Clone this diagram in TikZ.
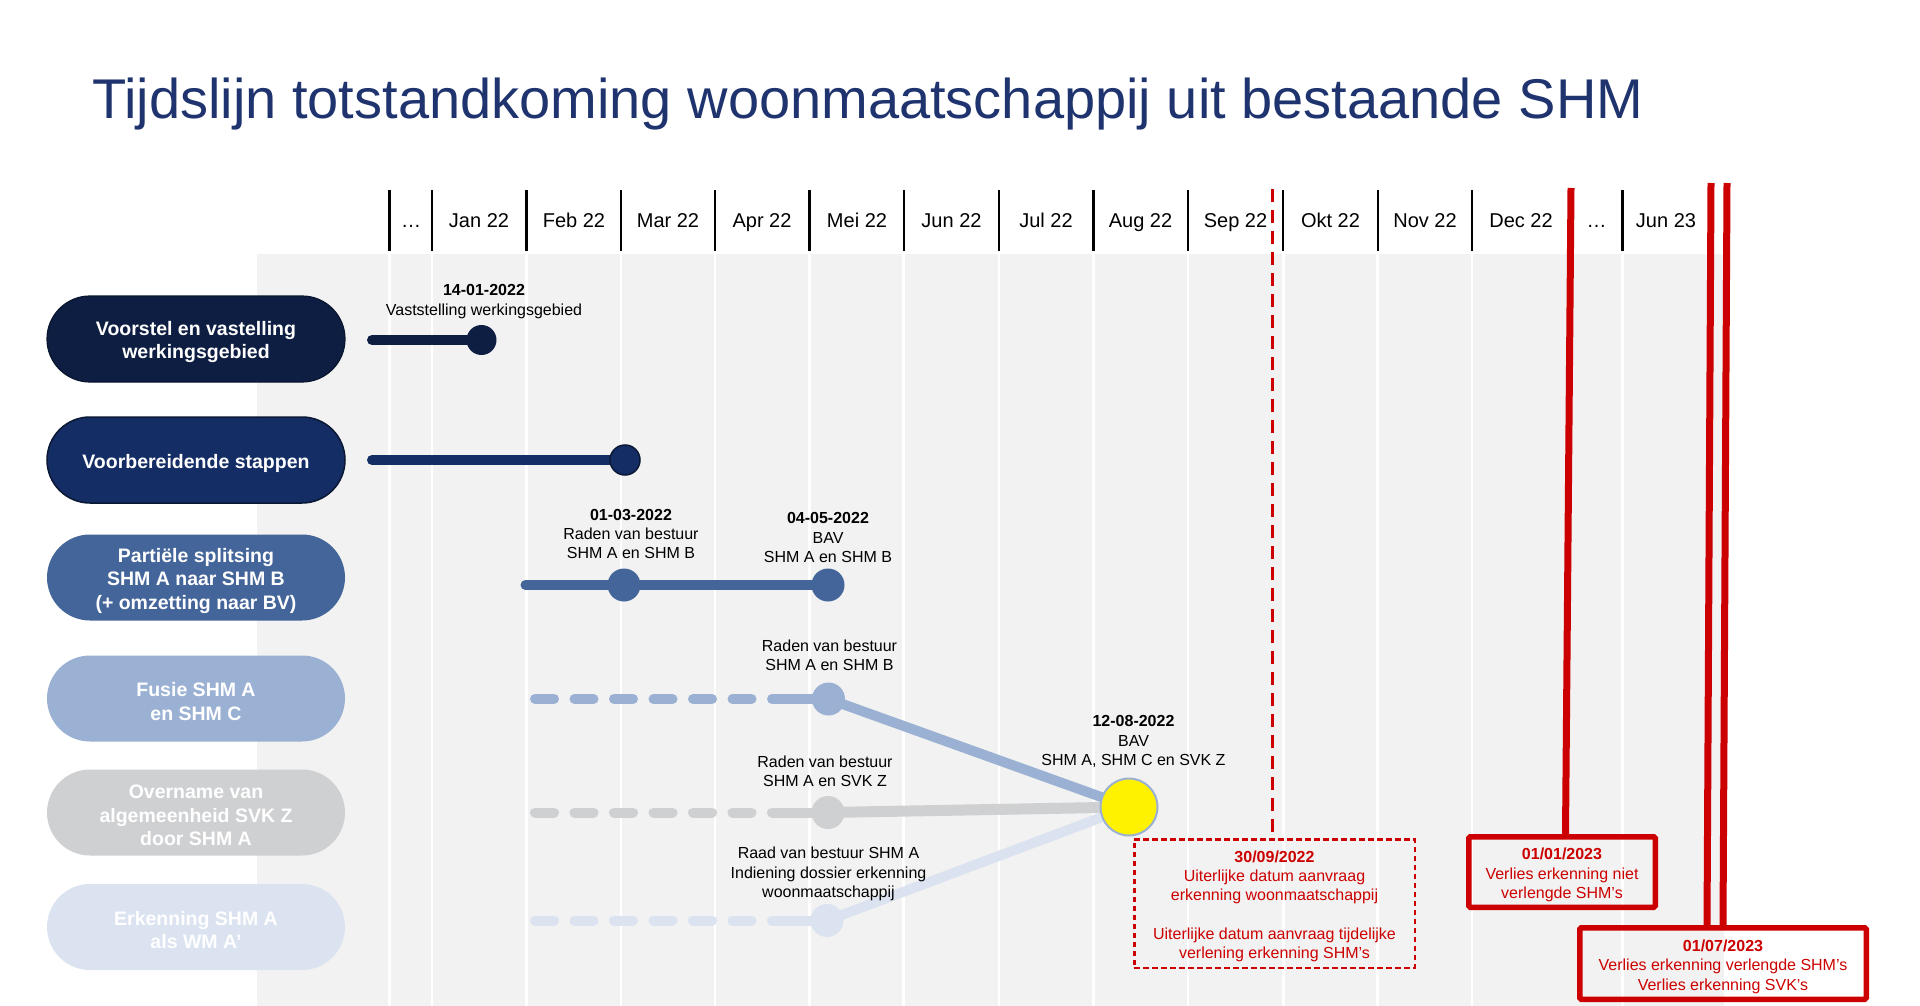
\documentclass[tikz,border=0pt]{standalone}
\usepackage{fontspec}
\setmainfont{Liberation Sans}
\pgfdeclarelayer{back}
\pgfdeclarelayer{mid}
\pgfsetlayers{back,mid,main}

\definecolor{titleblue}{RGB}{31,52,110}
\definecolor{navyA}{RGB}{14,30,66}
\definecolor{navyB}{RGB}{20,45,100}
\definecolor{blueC}{RGB}{68,101,154}
\definecolor{blueD}{RGB}{155,177,211}
\definecolor{grayE}{RGB}{207,208,210}
\definecolor{paleF}{RGB}{220,227,240}
\definecolor{panel}{RGB}{242,242,242}
\definecolor{alert}{RGB}{204,0,0}

\newcommand\fsz[2]{\fontsize{#1}{#2}\selectfont}

\begin{document}
\begin{tikzpicture}[x=1pt,y=-1pt,
  pill/.style={rounded corners=43pt, minimum width=298pt, minimum height=86pt,
    inner sep=0pt, align=center, text=white, font=\fsz{19.5}{23.5}\bfseries},
  pilltext/.style={inner sep=0pt, align=center, text=white, font=\fsz{19.5}{23.5}\bfseries, yshift=-3pt},
  lbl/.style={align=center, inner sep=0pt, font=\fsz{16}{19.3}, yshift=-2.5pt},
  month/.style={inner sep=0pt, anchor=base, font=\fsz{20}{24}},
  mdot/.style={circle, inner sep=0pt, minimum size=#1},
  track/.style={line width=10pt, line cap=round},
  dashtrack/.style={line width=10pt, line cap=round, dash pattern=on 19pt off 20.5pt},
  alertbox/.style={draw=alert, line width=5.5pt, rounded corners=1.5pt},
  alerttext/.style={inner sep=0pt, align=center, text=alert, font=\fsz{16}{19.5}, yshift=-3pt},
  alertline/.style={draw=alert, line width=7pt}]
\useasboundingbox (0,0) rectangle (1920,1006);

% ---------- background, month grid and header ----------
\begin{pgfonlayer}{back}
  \fill[white] (0,0) rectangle (1920,1006);
  \fill[panel] (257,254) rectangle (1724,1006);
  \foreach \x in {389.4,432.2,526.5,620.8,715.1,809.4,903.7,999.2,1093.5,1187.8,1283.3,1377.6,1471.9,1622.4}{
    \draw[white, line width=2.5pt] (\x,254) -- (\x,1006);
    \draw[black, line width=2.2pt] (\x,190) -- (\x,251);
  }
\end{pgfonlayer}

\foreach \x/\t [count=\i] in {411/\ldots, 479/Jan 22, 574/Feb 22, 668/Mar 22, 762/Apr 22,
  857/Mei 22, 951.5/Jun 22, 1046/Jul 22, 1140.5/Aug 22, 1235.5/Sep 22, 1330.5/Okt 22,
  1425/Nov 22, 1521/Dec 22, 1596.5/\ldots, 1666/Jun 23}
  \node[month] (m\i) at (\x,227.5) {\t};

% ---------- title ----------
\node[anchor=base west, inner sep=0pt, text=titleblue, font=\fsz{56}{60}] (title) at (92,119)
  {Tijdslijn totstandkoming woonmaatschappij uit bestaande SHM};

% ---------- row labels ----------
\node[pill, fill=navyA, draw=navyA!70!black, line width=1.2pt] (p1) at (196,339) {};
\node[pill, fill=navyB, draw=navyA!80!black, line width=1.5pt] (p2) at (196,460) {};
\node[pill, fill=blueC] (p3) at (196,577.5) {};
\node[pill, fill=blueD] (p4) at (196,698.5) {};
\node[pill, fill=grayE] (p5) at (196,812.5) {};
\node[pill, fill=paleF] (p6) at (196,927) {};
\node[pilltext] (p1t) at (p1) {Voorstel en vastelling\\werkingsgebied};
\node[pilltext] (p2t) at (p2) {Voorbereidende stappen};
\node[pilltext] (p3t) at (p3) {Partiële splitsing\\SHM A naar SHM B\\(+ omzetting naar BV)};
\node[pilltext] (p4t) at (p4) {Fusie SHM A\\en SHM C};
\node[pilltext] (p5t) at (p5) {Overname van\\algemeenheid SVK Z\\door SHM A};
\node[pilltext] (p6t) at (p6) {Erkenning SHM A\\als WM A’};

% ---------- milestones ----------
\coordinate (s1) at (372,340);
\coordinate (s2) at (372,460);
\coordinate (s3) at (525.5,585);
\coordinate (s4) at (535,699);   \coordinate (j4) at (772,699);
\coordinate (s5) at (535,812.5); \coordinate (j5) at (772,812.5);
\coordinate (s6) at (535,920.5); \coordinate (j6) at (772,920.5);

\node[mdot=30pt, fill=navyA] (d1) at (481.5,340) {};
\node[mdot=30pt, fill=navyB, draw=navyA!80!black, line width=1.5pt] (d2) at (625,460) {};
\node[mdot=33pt, fill=blueC] (d3a) at (624,585) {};
\node[mdot=33pt, fill=blueC] (d3b) at (828,585) {};
\node[mdot=33pt, fill=blueD] (d4) at (828.5,699) {};
\node[mdot=33pt, fill=grayE] (d5) at (828,812.5) {};
\node[mdot=33pt, fill=paleF] (d6) at (827,920.5) {};
\node[mdot=57pt, fill=yellow, draw=blueD, line width=2pt] (yel) at (1129,807) {};

\node[lbl] (l1) at (484,299) {\textbf{14-01-2022}\\Vaststelling werkingsgebied};
\node[lbl] (l3a) at (631,531.5) {\textbf{01-03-2022}\\Raden van bestuur\\SHM A en SHM B};
\node[lbl] (l3b) at (828,535) {\textbf{04-05-2022}\\BAV\\SHM A en SHM B};
\node[lbl] (l4) at (829.5,652.5) {Raden van bestuur\\SHM A en SHM B};
\node[lbl] (l5) at (825,768.5) {Raden van bestuur\\SHM A en SVK Z};
\node[lbl] (l6) at (828.5,871.5) {Raad van bestuur SHM A\\Indiening dossier erkenning\\woonmaatschappij};
\node[lbl] (ly) at (1133.5,739) {\textbf{12-08-2022}\\BAV\\SHM A, SHM C en SVK Z};

% ---------- deadlines ----------
\node[draw=alert, line width=2.5pt, dash pattern=on 5.5pt off 3.5pt, inner sep=0pt,
  minimum width=280.5pt, minimum height=128.5pt] (b0) at (1274.5,903.5) {};
\node[alertbox, minimum width=186.5pt, minimum height=70.5pt] (b1) at (1562,872) {};
\node[alertbox, minimum width=286.5pt, minimum height=71.5pt] (b2) at (1723,963.5) {};
\node[alerttext, font=\fsz{16}{19.3}] (b0t) at (b0)
  {\textbf{30/09/2022}\\Uiterlijke datum aanvraag\\erkenning woonmaatschappij\\[19.3pt]Uiterlijke datum aanvraag tijdelijke\\verlening erkenning SHM’s};
\node[alerttext] (b1t) at (b1) {\textbf{01/01/2023}\\Verlies erkenning niet\\verlengde SHM’s};
\node[alerttext] (b2t) at (b2) {\textbf{01/07/2023}\\Verlies erkenning verlengde SHM’s\\Verlies erkenning SVK’s};

\coordinate (t0) at (1272,189);
\coordinate (t1) at (1571,188);
\coordinate (t2a) at (1711,183);
\coordinate (t2b) at (1727,183);

% ---------- connectors ----------
\begin{pgfonlayer}{mid}
  \draw[track, navyA] (s1) -- (d1.center);
  \draw[track, navyB] (s2) -- (d2.center);
  \draw[track, blueC] (s3) -- (d3a.center) -- (d3b.center);
  \draw[dashtrack, blueD] (s4) -- (j4);
  \draw[track, blueD] (j4) -- (d4.center);
  \draw[dashtrack, grayE] (s5) -- (j5);
  \draw[track, grayE] (j5) -- (d5.center);
  \draw[dashtrack, paleF] (s6) -- (j6);
  \draw[track, paleF] (j6) -- (d6.center);
  \draw[line width=10pt, blueD] (d4.center) -- (yel.center);
  \draw[line width=11pt, grayE] (d5.center) -- (yel.center);
  \draw[line width=10pt, paleF] (d6.center) -- (yel.center);
  \draw[alert, line width=3pt, dash pattern=on 12.5pt off 8.5pt] (t0) -- (1272,0 |- b0.north);
  \draw[alertline] (t1) -- (1565.5,0 |- b1.north);
  \draw[alertline] (t2a) -- (1707,0 |- b2.north);
  \draw[alertline] (t2b) -- (1723,0 |- b2.north);
\end{pgfonlayer}
\end{tikzpicture}
\end{document}
